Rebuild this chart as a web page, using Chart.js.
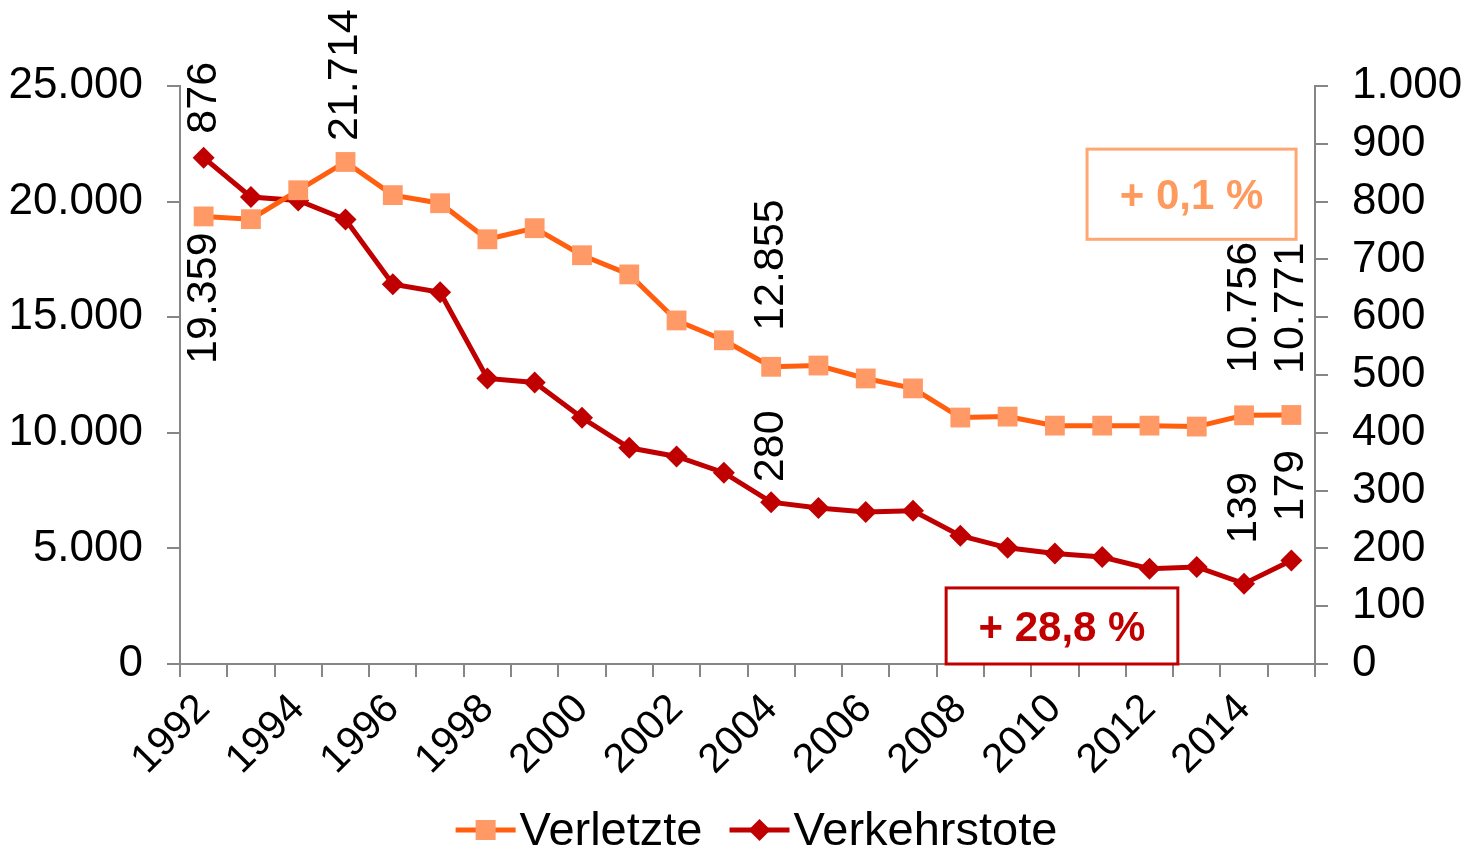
<!DOCTYPE html>
<html>
<head>
<meta charset="utf-8">
<script src="https://cdn.jsdelivr.net/npm/chart.js@4"></script>
<style>
  html, body { margin: 0; padding: 0; background: #fff; }
  #wrap { width: 1462px; height: 850px; }
</style>
</head>
<body>
<div id="wrap"><canvas id="chart" width="1462" height="850"></canvas></div>
<script>
var years = ['1992', '1993', '1994', '1995', '1996', '1997', '1998', '1999', '2000', '2001', '2002', '2003',
             '2004', '2005', '2006', '2007', '2008', '2009', '2010', '2011', '2012', '2013', '2014', '2015'];
var verletzte = [19359, 19240, 20490, 21714, 20280, 19930, 18370, 18850, 17680, 16850, 14860, 14000,
                 12855, 12910, 12350, 11920, 10660, 10700, 10310, 10310, 10310, 10270, 10756, 10771];
var verkehrstote = [876, 808, 802, 769, 657, 643, 494, 487, 426, 374, 359, 331,
                    280, 270, 263, 265, 222, 201, 191, 185, 165, 168, 139, 179];

// welche Punkte eine Beschriftung bekommen: [dataset, index, Lage, Abstand]
var labelSpecs = [
    [0, 0, 'below', 16], [0, 3, 'above', 21], [0, 12, 'above', 36], [0, 22, 'above', 42], [0, 23, 'above', 41],
    [1, 0, 'above', 24], [1, 12, 'above', 20], [1, 22, 'above', 40], [1, 23, 'above', 39]
];

var FONT = '"Liberation Sans", Arial, sans-serif';

function fmt(v) {
    return String(v).replace(/\B(?=(\d{3})+(?!\d))/g, '.');
}

// Beschriftungen senkrecht an die Punkte
var valueLabels = {
    id: 'valueLabels',
    afterDatasetsDraw: function (chart) {
        var ctx = chart.ctx;
        ctx.save();
        ctx.font = '43px ' + FONT;
        ctx.fillStyle = '#000';
        ctx.textBaseline = 'middle';
        labelSpecs.forEach(function (s) {
            var pt = chart.getDatasetMeta(s[0]).data[s[1]];
            var v = chart.data.datasets[s[0]].data[s[1]];
            ctx.save();
            ctx.translate(pt.x, pt.y);
            ctx.rotate(-Math.PI / 2);
            ctx.textAlign = s[2] === 'above' ? 'left' : 'right';
            ctx.fillText(fmt(v), s[2] === 'above' ? s[3] : -s[3], 0);
            ctx.restore();
        });
        ctx.restore();
    }
};

// Kästen mit der Veränderung
var changeBoxes = [
    { text: '+ 0,1 %', x0: 18.68, x1: 23.1, y0: 22270, y1: 18370, border: '#FFA772', color: '#FF9A5E' },
    { text: '+ 28,8 %', x0: 15.7, x1: 20.6, y0: 3290, y1: 0, border: '#C00000', color: '#C00000' }
];
var boxPlugin = {
    id: 'changeBoxes',
    afterDraw: function (chart) {
        var ctx = chart.ctx, xs = chart.scales.x, ys = chart.scales.y;
        ctx.save();
        changeBoxes.forEach(function (b) {
            var l = xs.getPixelForValue(b.x0), r = xs.getPixelForValue(b.x1);
            var t = ys.getPixelForValue(b.y0), btm = ys.getPixelForValue(b.y1);
            ctx.fillStyle = '#fff';
            ctx.fillRect(l, t, r - l, btm - t);
            ctx.lineWidth = 3;
            ctx.strokeStyle = b.border;
            ctx.strokeRect(l, t, r - l, btm - t);
            ctx.fillStyle = b.color;
            ctx.font = 'bold 42px ' + FONT;
            ctx.textAlign = 'center';
            ctx.textBaseline = 'middle';
            ctx.fillText(b.text, (l + r) / 2, (t + btm) / 2 + 3);
        });
        ctx.restore();
    }
};

// Legende unten: Linie mit Marker, dann Text
var legendPlugin = {
    id: 'lineLegend',
    afterDraw: function (chart) {
        var ctx = chart.ctx;
        var ds = chart.data.datasets;
        var iconW = 60, gapText = 4, gapItem = 27, y = 830;
        ctx.save();
        ctx.font = '47px ' + FONT;
        ctx.textBaseline = 'middle';
        var widths = ds.map(function (d) { return iconW + gapText + ctx.measureText(d.label).width; });
        var total = widths.reduce(function (a, b) { return a + b; }, 0) + gapItem * (ds.length - 1);
        var x = (chart.chartArea.left + chart.chartArea.right) / 2 + 9 - total / 2;
        ds.forEach(function (d, i) {
            ctx.strokeStyle = d.borderColor;
            ctx.lineWidth = 5;
            ctx.beginPath(); ctx.moveTo(x, y); ctx.lineTo(x + iconW, y); ctx.stroke();
            var cx = x + iconW / 2;
            ctx.fillStyle = d.pointBackgroundColor;
            if (d.pointStyle === 'rect') {
                ctx.fillRect(cx - 10, y - 10, 20, 20);
            } else {
                ctx.beginPath();
                ctx.moveTo(cx, y - 11); ctx.lineTo(cx + 11, y); ctx.lineTo(cx, y + 11); ctx.lineTo(cx - 11, y);
                ctx.closePath(); ctx.fill();
            }
            ctx.fillStyle = '#000';
            ctx.textAlign = 'left';
            ctx.fillText(d.label, x + iconW + gapText, y + 2);
            x += widths[i] + gapItem;
        });
        ctx.restore();
    }
};

var axisColor = '#868686';

var ctx = document.getElementById('chart').getContext('2d');
var chart = new Chart(ctx, {
    type: 'line',
    data: {
        labels: years,
        datasets: [{
            label: 'Verletzte',
            data: verletzte,
            yAxisID: 'y',
            borderColor: '#FF5F0F',
            borderWidth: 5,
            pointStyle: 'rect',
            pointRadius: 14,
            pointBackgroundColor: '#FF9966',
            pointBorderColor: '#FF9966',
            pointBorderWidth: 0,
            tension: 0
        }, {
            label: 'Verkehrstote',
            data: verkehrstote,
            yAxisID: 'y1',
            borderColor: '#C00000',
            borderWidth: 5,
            pointStyle: 'rectRot',
            pointRadius: 11,
            pointBackgroundColor: '#C00000',
            pointBorderColor: '#C00000',
            pointBorderWidth: 0,
            tension: 0
        }]
    },
    options: {
        responsive: false,
        animation: false,
        layout: { padding: { top: 86, left: 0, right: 0, bottom: 0 } },
        plugins: {
            tooltip: { enabled: false },
            legend: { display: false }
        },
        scales: {
            x: {
                offset: true,
                grid: { display: true, drawOnChartArea: false, drawTicks: true, tickLength: 13, offset: true, color: axisColor, lineWidth: 2 },
                border: { display: true, color: axisColor, width: 2 },
                ticks: {
                    autoSkip: false, maxRotation: 45, minRotation: 45, padding: 8,
                    color: '#000', font: { family: FONT, size: 41 },
                    callback: function (v, i) { return i % 2 === 0 ? years[i] : ''; }
                },
                afterFit: function (s) { s.height = 186; }
            },
            y: {
                position: 'left',
                min: 0, max: 25000,
                grid: { display: true, drawOnChartArea: false, drawTicks: true, tickLength: 13, color: axisColor, lineWidth: 2 },
                border: { display: true, color: axisColor, width: 2 },
                ticks: {
                    stepSize: 5000, padding: 24, color: '#000', font: { family: FONT, size: 44 },
                    callback: function (v) { return fmt(v); }
                },
                afterFit: function (s) { s.width = 180; }
            },
            y1: {
                position: 'right',
                min: 0, max: 1000,
                grid: { display: true, drawOnChartArea: false, drawTicks: true, tickLength: 13, color: axisColor, lineWidth: 2 },
                border: { display: true, color: axisColor, width: 2 },
                ticks: {
                    stepSize: 100, padding: 24, color: '#000', font: { family: FONT, size: 44 },
                    callback: function (v) { return fmt(v); }
                },
                afterFit: function (s) { s.width = 147; }
            }
        }
    },
    plugins: [valueLabels, boxPlugin, legendPlugin]
});
</script>
</body>
</html>
